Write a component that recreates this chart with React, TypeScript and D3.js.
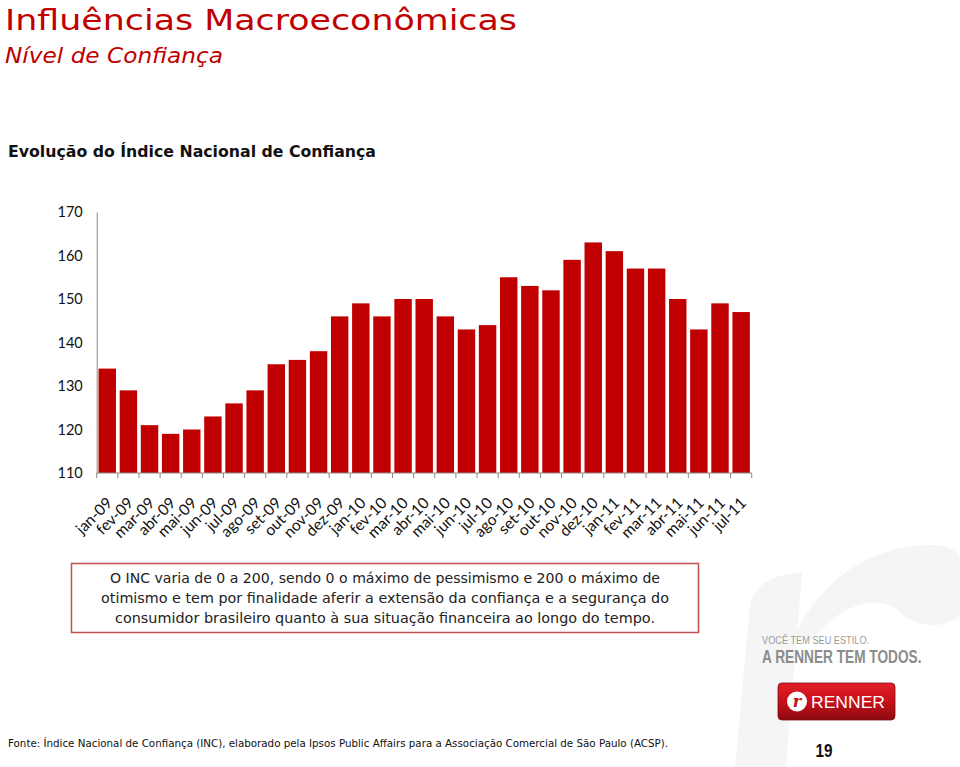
import { useEffect, useRef } from "react";
import * as d3 from "d3";

const months = [
  "jan-09", "fev-09", "mar-09", "abr-09", "mai-09", "jun-09", "jul-09", "ago-09",
  "set-09", "out-09", "nov-09", "dez-09", "jan-10", "fev-10", "mar-10", "abr-10",
  "mai-10", "jun-10", "jul-10", "ago-10", "set-10", "out-10", "nov-10", "dez-10",
  "jan-11", "fev-11", "mar-11", "abr-11", "mai-11", "jun-11", "jul-11",
];

const incValues = [
  134, 129, 121, 119, 120, 123, 126, 129, 135, 136, 138, 146, 149, 146, 150, 150,
  146, 143, 144, 155, 153, 152, 159, 163, 161, 157, 157, 150, 143, 149, 147,
];

const yTicks = [110, 120, 130, 140, 150, 160, 170];

const noteLines = [
  "O INC varia de 0 a 200, sendo 0 o máximo de pessimismo e 200 o máximo de",
  "otimismo e tem por finalidade aferir a extensão da confiança e a segurança do",
  "consumidor brasileiro quanto à sua situação financeira ao longo do tempo.",
];

const W = 960;
const H = 767;
const RED = "#c00000";
const GOTHIC = "'DejaVu Sans', sans-serif";
const CAL = "Lato, 'Open Sans', sans-serif";
const SANS = "'Liberation Sans', Arial, sans-serif";

export default function App() {
  const svgRef = useRef<SVGSVGElement | null>(null);

  useEffect(() => {
    if (!svgRef.current) return;
    const svg = d3.select(svgRef.current);
    svg.selectAll("*").remove();

    const plot = { left: 96.7, right: 751.7, top: 212, bottom: 473 };

    // faint watermark ("r" of the logo) behind the ad block
    const wm = svg.append("g").attr("fill", "#f5f5f5");
    wm.append("path").attr(
      "d",
      "M735,767 L750,605 C753,588 768,576 795,573 L802,573 L786,767 Z"
    );
    wm.append("path").attr(
      "d",
      "M792,640 C820,580 870,545 930,545 C948,545 960,552 960,560 L960,615 C945,630 915,628 900,612 C880,594 842,602 812,640 Z"
    );

    // titles
    svg.append("text")
      .attr("x", 5).attr("y", 30)
      .attr("font-family", GOTHIC).attr("font-size", 29)
      .attr("fill", RED)
      .attr("textLength", 512).attr("lengthAdjust", "spacingAndGlyphs")
      .text("Influências Macroeconômicas");

    svg.append("text")
      .attr("x", 5).attr("y", 63)
      .attr("font-family", GOTHIC).attr("font-size", 21)
      .attr("font-style", "italic")
      .attr("fill", RED)
      .attr("textLength", 218).attr("lengthAdjust", "spacingAndGlyphs")
      .text("Nível de Confiança");

    svg.append("text")
      .attr("x", 8).attr("y", 157)
      .attr("font-family", GOTHIC).attr("font-size", 16)
      .attr("font-weight", "bold")
      .attr("fill", "#111")
      .attr("textLength", 368).attr("lengthAdjust", "spacingAndGlyphs")
      .text("Evolução do Índice Nacional de Confiança");

    // scales
    const x = d3.scaleBand<string>()
      .domain(months)
      .range([plot.left, plot.right])
      .paddingInner(0.175)
      .paddingOuter(0.0875);

    const y = d3.scaleLinear()
      .domain([110, 170])
      .range([plot.bottom, plot.top]);

    // bars
    svg.append("g")
      .selectAll("rect")
      .data(incValues)
      .join("rect")
      .attr("x", (_, i) => x(months[i]) as number)
      .attr("y", (d) => y(d))
      .attr("width", x.bandwidth())
      .attr("height", (d) => plot.bottom - y(d))
      .attr("fill", RED);

    // y axis
    const yAxis = svg.append("g")
      .attr("transform", `translate(${plot.left},0)`)
      .call(d3.axisLeft(y).tickValues(yTicks).tickSize(0).tickPadding(14));
    yAxis.select(".domain").attr("stroke", "#8a8a8a").attr("stroke-width", 1);
    yAxis.selectAll("text")
      .attr("font-family", CAL).attr("font-size", 14.5).attr("fill", "#111");

    // x axis line + tick marks at category boundaries
    const step = x.step();
    const xAxis = svg.append("g").attr("stroke", "#8a8a8a").attr("stroke-width", 1);
    xAxis.append("line")
      .attr("x1", plot.left).attr("x2", plot.right)
      .attr("y1", plot.bottom).attr("y2", plot.bottom);
    xAxis.selectAll("line.tick")
      .data(d3.range(months.length + 1))
      .join("line")
      .attr("class", "tick")
      .attr("x1", (i) => plot.left + i * step)
      .attr("x2", (i) => plot.left + i * step)
      .attr("y1", plot.bottom).attr("y2", plot.bottom + 5);

    // x labels
    svg.append("g")
      .selectAll("text")
      .data(months)
      .join("text")
      .attr("transform", (m) => {
        const cx = (x(m) as number) + x.bandwidth() / 2 + 6;
        return `translate(${cx},${plot.bottom + 31}) rotate(-45)`;
      })
      .attr("text-anchor", "end")
      .attr("font-family", CAL).attr("font-size", 15.5).attr("fill", "#111")
      .text((m) => m);

    // note box
    svg.append("rect")
      .attr("x", 71.5).attr("y", 563.5)
      .attr("width", 627).attr("height", 69)
      .attr("fill", "#fff")
      .attr("stroke", "#c0504d").attr("stroke-width", 1.5);

    svg.append("g")
      .selectAll("text")
      .data(noteLines)
      .join("text")
      .attr("x", 385).attr("y", (_, i) => 583 + i * 20)
      .attr("text-anchor", "middle")
      .attr("font-family", GOTHIC).attr("font-size", 13.5).attr("fill", "#222")
      .attr("textLength", (_, i) => [550, 568, 540][i])
      .attr("lengthAdjust", "spacingAndGlyphs")
      .text((d) => d);

    // Renner ad block (condensed lettering)
    svg.append("text")
      .attr("transform", "translate(762,644) scale(0.8,1)")
      .attr("font-family", SANS)
      .attr("font-size", 11.5).attr("fill", "#9a9a9a")
      .text("VOCÊ TEM SEU ESTILO.");
    svg.append("text")
      .attr("transform", "translate(762,663) scale(0.72,1)")
      .attr("font-family", SANS)
      .attr("font-size", 19).attr("font-weight", "bold").attr("fill", "#8c8c8c")
      .text("A RENNER TEM TODOS.");

    const defs = svg.append("defs");
    const grad = defs.append("linearGradient")
      .attr("id", "btn").attr("x1", 0).attr("x2", 0).attr("y1", 0).attr("y2", 1);
    grad.append("stop").attr("offset", "0%").attr("stop-color", "#e0202a");
    grad.append("stop").attr("offset", "50%").attr("stop-color", "#c8101a");
    grad.append("stop").attr("offset", "100%").attr("stop-color", "#8e0a10");

    svg.append("rect")
      .attr("x", 778).attr("y", 683).attr("width", 117).attr("height", 37)
      .attr("rx", 4).attr("fill", "url(#btn)")
      .attr("stroke", "#7a0a0e").attr("stroke-width", 0.8);
    svg.append("circle")
      .attr("cx", 797).attr("cy", 701.5).attr("r", 10).attr("fill", "#fff");
    svg.append("text")
      .attr("x", 797).attr("y", 707)
      .attr("text-anchor", "middle")
      .attr("font-family", "'DejaVu Serif', serif").attr("font-style", "italic")
      .attr("font-weight", "bold").attr("font-size", 16).attr("fill", "#c8101a")
      .text("r");
    svg.append("text")
      .attr("x", 811).attr("y", 708)
      .attr("font-family", SANS)
      .attr("font-size", 17).attr("fill", "#fff")
      .attr("textLength", 74).attr("lengthAdjust", "spacingAndGlyphs")
      .text("RENNER");

    // footer
    svg.append("text")
      .attr("x", 8).attr("y", 747)
      .attr("font-family", GOTHIC).attr("font-size", 11).attr("fill", "#111")
      .attr("textLength", 660).attr("lengthAdjust", "spacingAndGlyphs")
      .text("Fonte: Índice Nacional de Confiança (INC), elaborado pela Ipsos Public Affairs para a Associação Comercial de São Paulo (ACSP).");

    svg.append("text")
      .attr("transform", "translate(824,757) scale(0.85,1)")
      .attr("text-anchor", "middle")
      .attr("font-family", SANS)
      .attr("font-size", 18).attr("font-weight", "bold").attr("fill", "#111")
      .text("19");
  }, []);

  return (
    <svg
      ref={svgRef}
      width={W}
      height={H}
      viewBox={`0 0 ${W} ${H}`}
      style={{ position: "absolute", left: 0, top: 0, background: "#fff" }}
    ></svg>
  );
}
